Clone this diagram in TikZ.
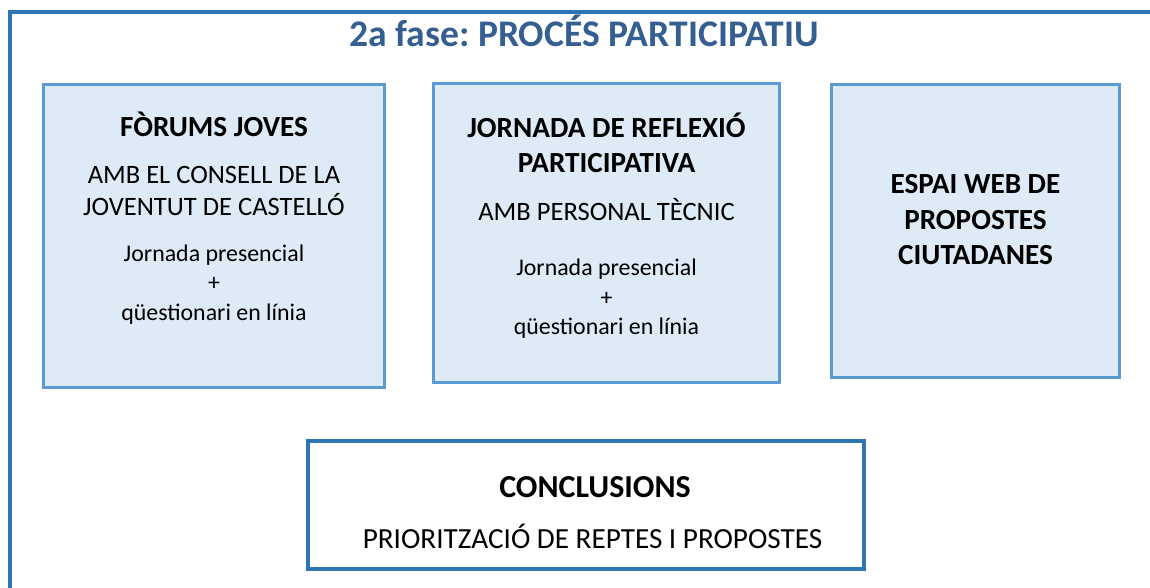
\documentclass[tikz,border=0pt]{standalone}
\usepackage{fontspec}
\setmainfont{Carlito}
\usepackage{tikz}
\frenchspacing

\definecolor{marc}{RGB}{46,117,182}
\definecolor{vora}{RGB}{91,155,213}
\definecolor{fons}{RGB}{222,234,246}
\definecolor{titol}{RGB}{54,95,145}

\tikzset{
    caixa/.style={draw=vora, fill=fons, line width=2.25pt, inner sep=0pt},
    final/.style={draw=marc, fill=white, line width=3pt, inner sep=0pt},
    capcal/.style={anchor=base, font=\fontsize{21.9}{26}\bfseries},
    sub/.style={anchor=base, font=\fontsize{19.9}{24}\selectfont},
    petit/.style={anchor=base, font=\fontsize{17.9}{21}\selectfont}
}

\begin{document}
\begin{tikzpicture}[x=0.75pt, y=-0.75pt]
            \useasboundingbox (0,0) rectangle (1150,588);
            \clip (0,0) rectangle (1150,588);
            \draw [marc, line width=3pt] (10,640) -- (10,12) -- (1200,12);
            \node [anchor=base, text=titol, font=\fontsize{28.2}{32}\bfseries] (title) at (584,47) {2a fase: PROCÉS PARTICIPATIU};
            % caixes
            \node [caixa, minimum width=255.75pt, minimum height=227.6pt] (forums) at (214,235.75) {};
            \node [caixa, minimum width=259.5pt, minimum height=223.5pt] (jornada) at (606.5,233) {};
            \node [caixa, minimum width=216pt, minimum height=220.1pt] (web) at (975.5,230.75) {};
            \node [final, minimum width=417pt, minimum height=96pt] (concl) at (586,505) {};
            % forums
            \node [capcal] (forums1) at (214,137) {FÒRUMS JOVES};
            \node [sub] (forums2) at (214,184) {AMB EL CONSELL DE LA};
            \node [sub] (forums3) at (214,215) {JOVENTUT DE CASTELLÓ};
            \node [petit] (forums4) at (214,262) {Jornada presencial};
            \node [petit] (forums5) at (214,291) {+};
            \node [petit] (forums6) at (214,320) {qüestionari en línia};
            % jornada
            \node [capcal] (jornada1) at (606.5,138) {JORNADA DE REFLEXIÓ};
            \node [capcal] (jornada2) at (606.5,173) {PARTICIPATIVA};
            \node [sub] (jornada3) at (606.5,220) {AMB PERSONAL TÈCNIC};
            \node [petit] (jornada4) at (606.5,276) {Jornada presencial};
            \node [petit] (jornada5) at (606.5,305) {+};
            \node [petit] (jornada6) at (606.5,334) {qüestionari en línia};
            % web
            \node [capcal] (web1) at (975.5,194) {ESPAI WEB DE};
            \node [capcal] (web2) at (975.5,229) {PROPOSTES};
            \node [capcal] (web3) at (975.5,264) {CIUTADANES};
            % conclusions
            \node [capcal, font=\fontsize{24}{28}\bfseries] (concl1) at (595,497) {CONCLUSIONS};
            \node [sub, font=\fontsize{21.9}{26}\selectfont] (concl2) at (592.5,548) {PRIORITZACIÓ DE REPTES I PROPOSTES};
\end{tikzpicture}
\end{document}
